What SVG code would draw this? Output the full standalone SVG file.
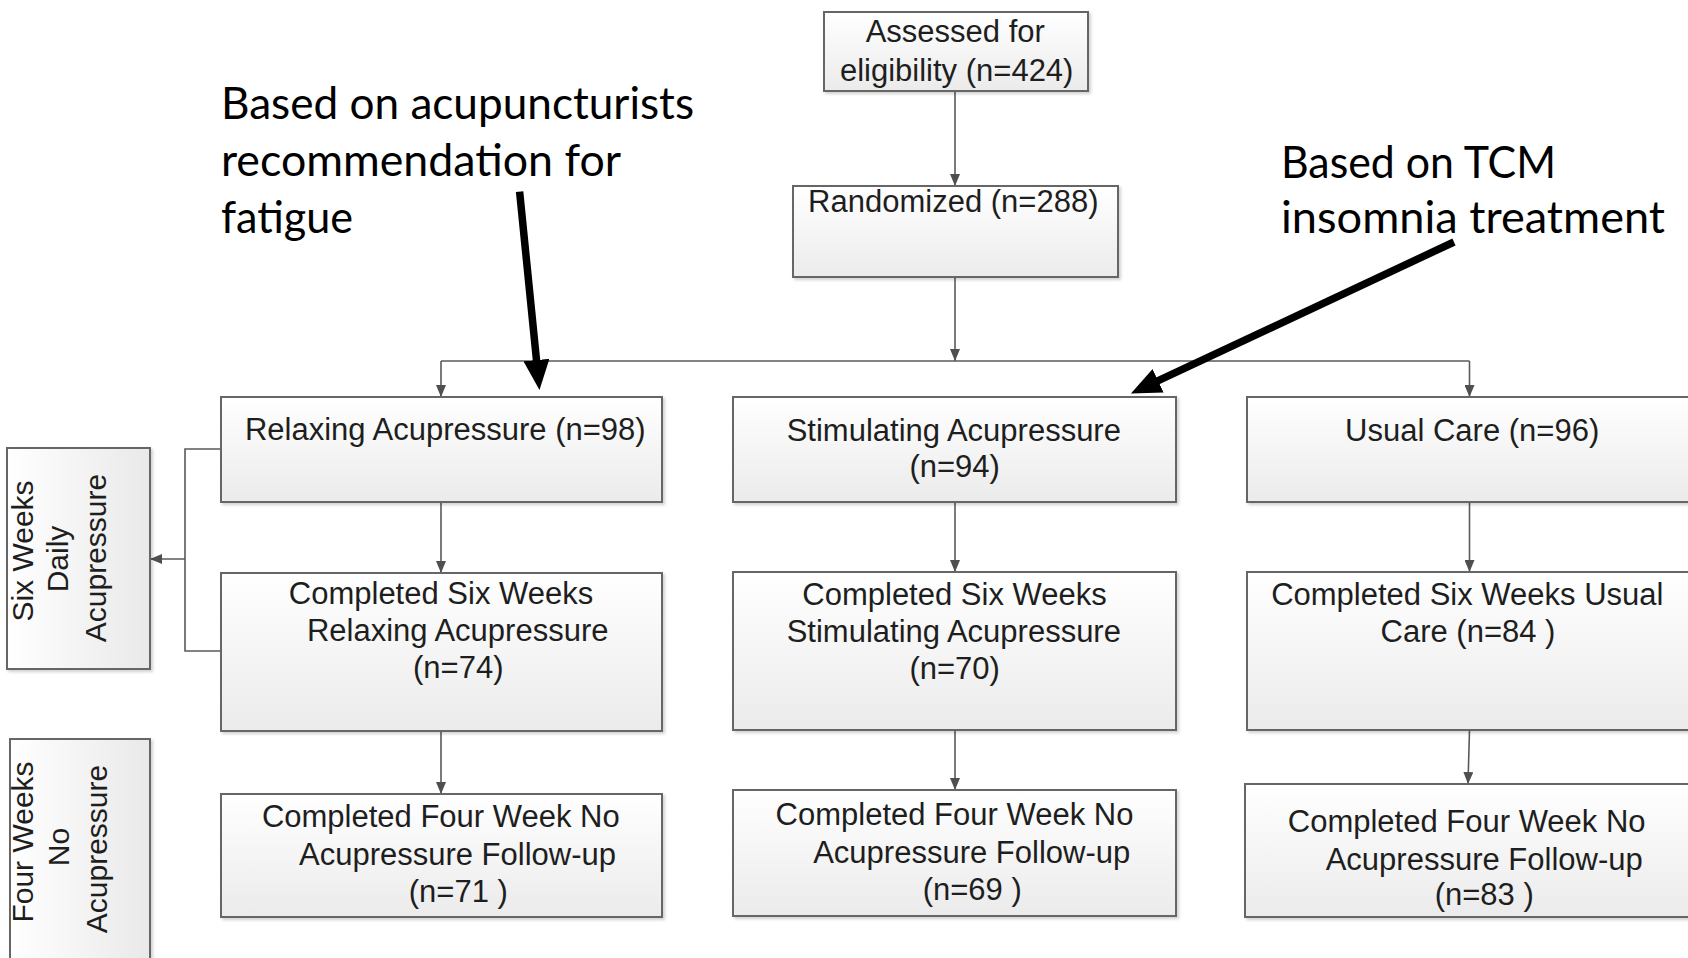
<svg xmlns="http://www.w3.org/2000/svg" width="1688" height="958" viewBox="0 0 1688 958">
  <defs>
    <linearGradient id="gv" x1="0" y1="0" x2="0" y2="1">
      <stop offset="0" stop-color="#ffffff"/>
      <stop offset="1" stop-color="#ebebeb"/>
    </linearGradient>
    <linearGradient id="gh" x1="0" y1="0" x2="1" y2="0">
      <stop offset="0" stop-color="#ffffff"/>
      <stop offset="1" stop-color="#e9e9e9"/>
    </linearGradient>
    <filter id="sh" x="-5%" y="-5%" width="112%" height="115%">
      <feDropShadow dx="2" dy="2" stdDeviation="1.5" flood-color="#000" flood-opacity="0.18"/>
    </filter>
    <marker id="ah" markerUnits="userSpaceOnUse" viewBox="0 0 12 10" markerWidth="12" markerHeight="10" refX="12" refY="5" orient="auto">
      <path d="M0,0 L12,5 L0,10 z" fill="#4f4f4f"/>
    </marker>
    <marker id="big" markerUnits="userSpaceOnUse" viewBox="0 0 30 26" markerWidth="30" markerHeight="26" refX="1" refY="13" orient="auto">
      <path d="M0,0 L30,13 L0,26 z" fill="#000"/>
    </marker>
  </defs>
  <style>
    .box { fill: url(#gv); stroke: #666; stroke-width: 2; filter: url(#sh); }
    .vbox { fill: url(#gh); stroke: #666; stroke-width: 2; filter: url(#sh); }
    .t { font-family: "Liberation Sans", Arial, sans-serif; font-size: 31px; fill: #1e1e1e; text-anchor: middle; }
    .vt { font-family: "Liberation Sans", Arial, sans-serif; font-size: 30px; fill: #1e1e1e; text-anchor: middle; }
    .note { font-family: Lato, "Open Sans", sans-serif; font-size: 44px; fill: #000; }
    .conn { fill: none; stroke: #5a5a5a; stroke-width: 1.6; }
    .thick { fill: none; stroke: #000; stroke-width: 7.5; }
  </style>
  <rect width="1688" height="958" fill="#ffffff"/>

  <g id="connectors">
    <path class="conn" d="M955,91 V186" marker-end="url(#ah)"/>
    <path class="conn" d="M955,277 V361" marker-end="url(#ah)"/>
    <path class="conn" d="M441,361 H1469.5"/>
    <path class="conn" d="M441,361 V397" marker-end="url(#ah)"/>
    <path class="conn" d="M1469.5,361 V397" marker-end="url(#ah)"/>
    <path class="conn" d="M441,502 V573" marker-end="url(#ah)"/>
    <path class="conn" d="M441,731 V794" marker-end="url(#ah)"/>
    <path class="conn" d="M955,502 V572" marker-end="url(#ah)"/>
    <path class="conn" d="M955,730 V790" marker-end="url(#ah)"/>
    <path class="conn" d="M1469.5,502 V572" marker-end="url(#ah)"/>
    <path class="conn" d="M1469.5,730 L1468,784" marker-end="url(#ah)"/>
    <path class="conn" d="M221,449 H185 V651 H221"/>
    <path class="conn" d="M185,559 H150" marker-end="url(#ah)"/>
    <path class="thick" d="M519.6,191.7 L536.6,361.1" marker-end="url(#big)"/>
    <path class="thick" d="M1454,242 L1157.2,381.2" marker-end="url(#big)"/>
  </g>

  <g id="assessed">
    <rect class="box" x="824" y="12" width="264" height="79"/>
    <text class="t" x="955.3" y="41.7">Assessed for</text>
    <text class="t" x="956.7" y="81">eligibility (n=424)</text>
  </g>
  <g id="randomized">
    <rect class="box" x="793" y="186" width="325" height="91"/>
    <text class="t" x="953.3" y="211.7">Randomized (n=288)</text>
  </g>

  <g id="relaxing">
    <rect class="box" x="221" y="397" width="441" height="105"/>
    <text class="t" x="445.3" y="440">Relaxing Acupressure (n=98)</text>
  </g>
  <g id="relaxing-six">
    <rect class="box" x="221" y="573" width="441" height="158"/>
    <text class="t" x="441" y="604">Completed Six Weeks</text>
    <text class="t" x="457.7" y="641">Relaxing Acupressure</text>
    <text class="t" x="458.3" y="678">(n=74)</text>
  </g>
  <g id="relaxing-four">
    <rect class="box" x="221" y="794" width="441" height="123"/>
    <text class="t" x="440.8" y="827">Completed Four Week No</text>
    <text class="t" x="457.5" y="864.5">Acupressure Follow-up</text>
    <text class="t" x="458.3" y="902">(n=71 )</text>
  </g>

  <g id="stimulating">
    <rect class="box" x="733" y="397" width="443" height="105"/>
    <text class="t" x="953.8" y="440.7">Stimulating Acupressure</text>
    <text class="t" x="954.7" y="476.5">(n=94)</text>
  </g>
  <g id="stimulating-six">
    <rect class="box" x="733" y="572" width="443" height="158"/>
    <text class="t" x="954.5" y="604.5">Completed Six Weeks</text>
    <text class="t" x="953.8" y="641.5">Stimulating Acupressure</text>
    <text class="t" x="954.7" y="679">(n=70)</text>
  </g>
  <g id="stimulating-four">
    <rect class="box" x="733" y="790" width="443" height="126"/>
    <text class="t" x="954.5" y="825">Completed Four Week No</text>
    <text class="t" x="971.7" y="863">Acupressure Follow-up</text>
    <text class="t" x="972.2" y="900">(n=69 )</text>
  </g>

  <g id="usual">
    <rect class="box" x="1247" y="397" width="443" height="105"/>
    <text class="t" x="1472.2" y="440.8">Usual Care (n=96)</text>
  </g>
  <g id="usual-six">
    <rect class="box" x="1247" y="572" width="443" height="158"/>
    <text class="t" x="1467.3" y="604.8">Completed Six Weeks Usual</text>
    <text class="t" x="1468" y="641.7">Care (n=84 )</text>
  </g>
  <g id="usual-four">
    <rect class="box" x="1245" y="784" width="445" height="133"/>
    <text class="t" x="1466.7" y="831.5">Completed Four Week No</text>
    <text class="t" x="1484.2" y="869.5">Acupressure Follow-up</text>
    <text class="t" x="1484.2" y="905">(n=83 )</text>
  </g>

  <g id="six-weeks-phase">
    <rect class="vbox" x="7" y="448" width="143" height="221"/>
    <text class="vt" transform="translate(33.3,551) rotate(-90)">Six Weeks</text>
    <text class="vt" transform="translate(68.3,559) rotate(-90)">Daily</text>
    <text class="vt" transform="translate(106,558) rotate(-90)">Acupressure</text>
  </g>
  <g id="four-weeks-phase">
    <rect class="vbox" x="10" y="739" width="140" height="240"/>
    <text class="vt" transform="translate(33.3,842) rotate(-90)">Four Weeks</text>
    <text class="vt" transform="translate(69,847) rotate(-90)">No</text>
    <text class="vt" transform="translate(106.5,849) rotate(-90)">Acupressure</text>
  </g>

  <g id="note-fatigue">
    <text class="note" x="221" y="118.5" textLength="473" lengthAdjust="spacingAndGlyphs">Based on acupuncturists</text>
    <text class="note" x="221" y="175.5" textLength="400" lengthAdjust="spacingAndGlyphs">recommendation for</text>
    <text class="note" x="221" y="232.5" textLength="132" lengthAdjust="spacingAndGlyphs">fatigue</text>
  </g>
  <g id="note-insomnia">
    <text class="note" x="1281" y="178" textLength="275" lengthAdjust="spacingAndGlyphs">Based on TCM</text>
    <text class="note" x="1281" y="232.5" textLength="384" lengthAdjust="spacingAndGlyphs">insomnia treatment</text>
  </g>
</svg>
